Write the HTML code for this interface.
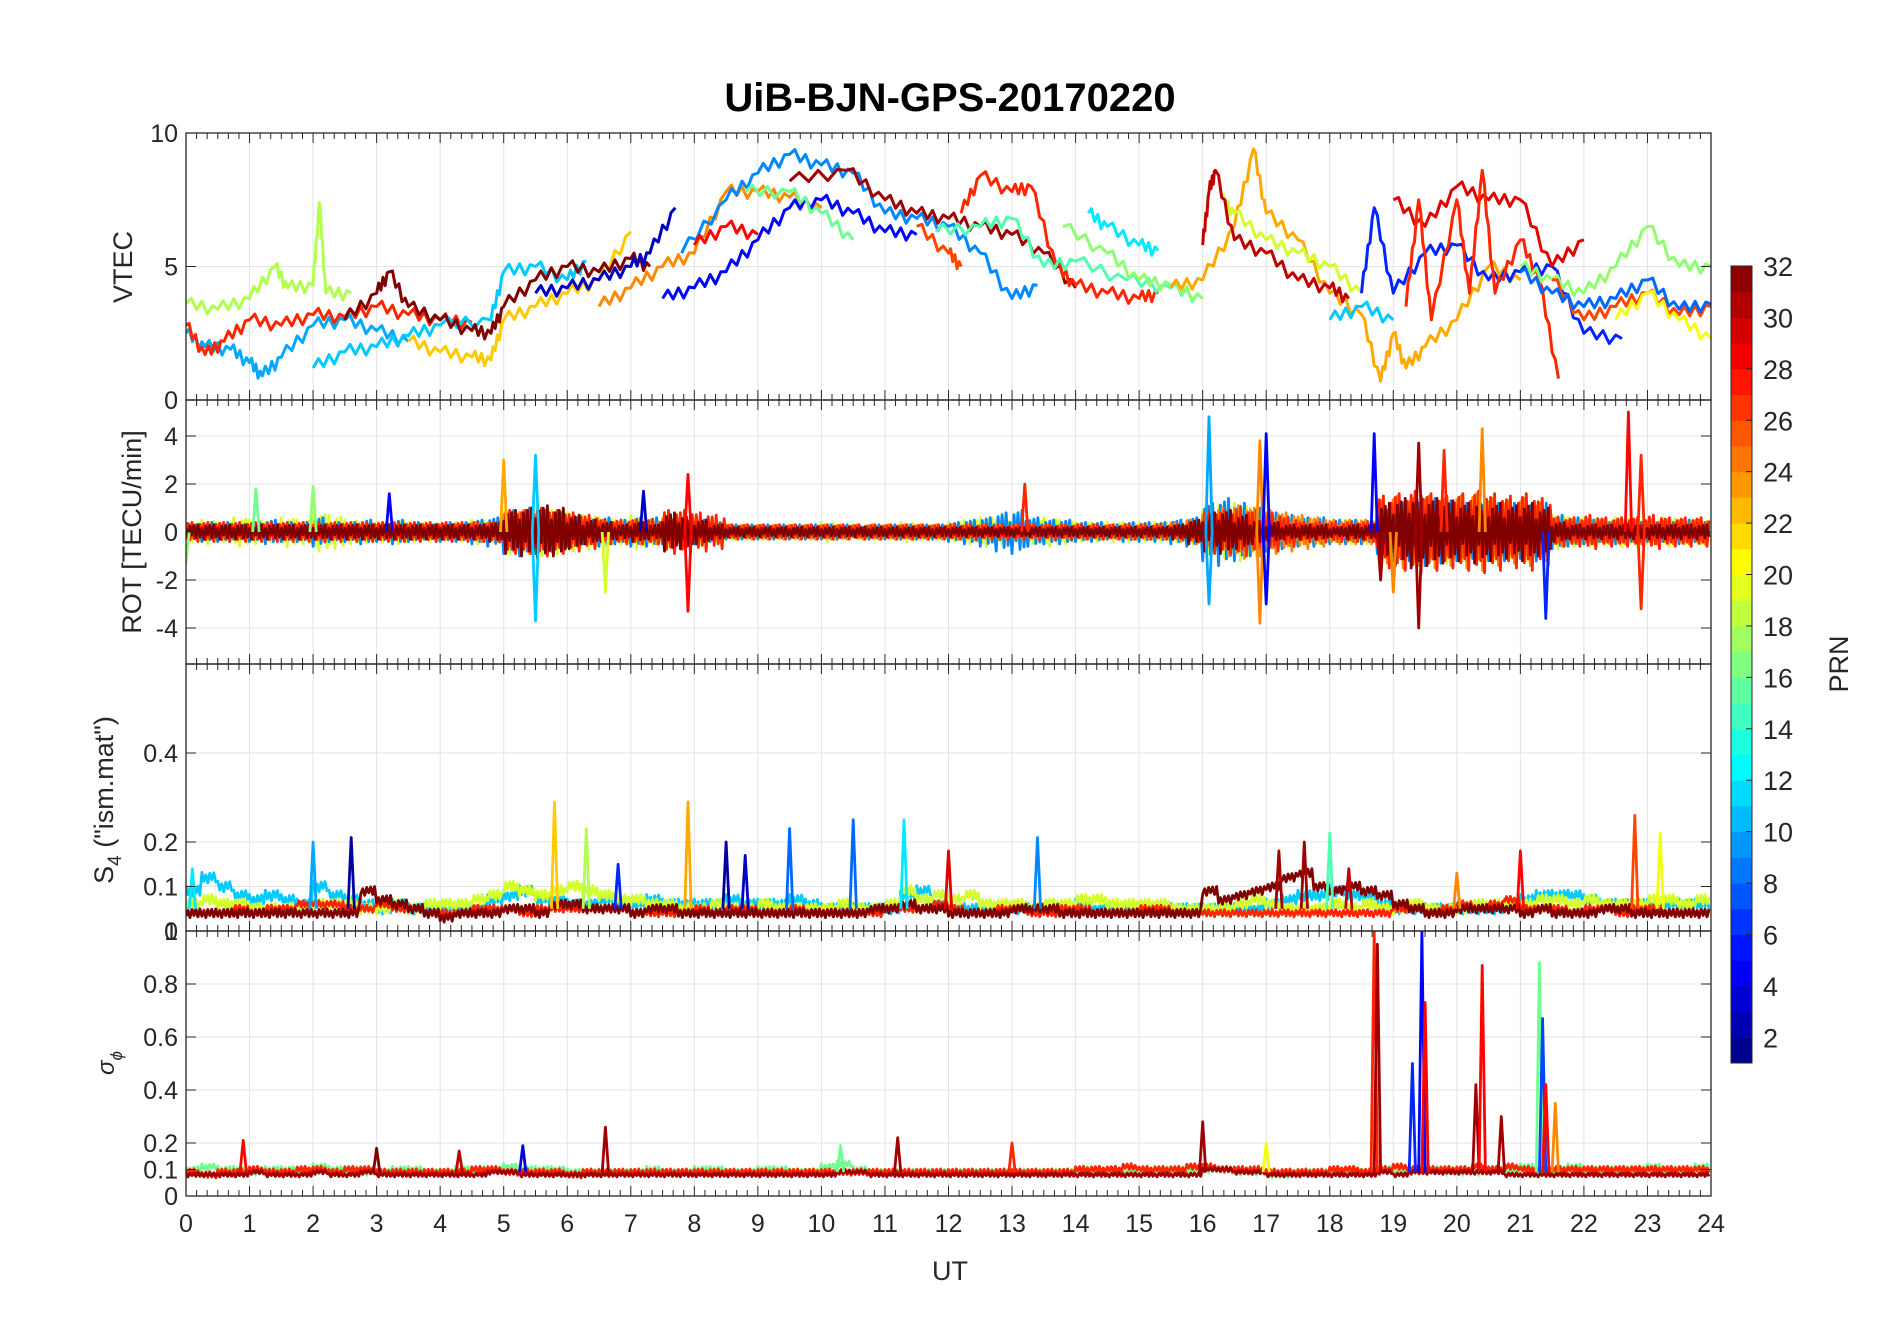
<!DOCTYPE html>
<html><head><meta charset="utf-8"><style>
body{margin:0;background:#fff;}
svg text{font-family:"Liberation Sans",sans-serif;fill:#262626;}
</style></head><body>
<svg id="c" width="1902" height="1330" viewBox="0 0 1902 1330" xmlns="http://www.w3.org/2000/svg">
<defs>
<clipPath id="cp1"><rect x="186" y="133" width="1525" height="267"/></clipPath>
<clipPath id="cp2"><rect x="186" y="400" width="1525" height="264"/></clipPath>
<clipPath id="cp3"><rect x="186" y="664" width="1525" height="267"/></clipPath>
<clipPath id="cp4"><rect x="186" y="931" width="1525" height="265"/></clipPath>
</defs>
<g id="grid"></g>
<g id="marks"></g>
<g id="axes"></g>
<text x="950" y="111" font-size="40" font-weight="bold" text-anchor="middle" style="fill:#000">UiB-BJN-GPS-20170220</text>
<text x="950" y="1280" font-size="27" text-anchor="middle">UT</text>
<text transform="translate(132,267) rotate(-90)" font-size="27" text-anchor="middle">VTEC</text>
<text transform="translate(141,532) rotate(-90)" font-size="27" text-anchor="middle">ROT [TECU/min]</text>
<text transform="translate(113,800) rotate(-90)" font-size="27" text-anchor="middle">S<tspan font-size="19" dy="8">4</tspan><tspan dy="-8"> ("ism.mat")</tspan></text>
<text transform="translate(114,1063) rotate(-90)" font-size="24" font-style="italic" text-anchor="middle">σ<tspan font-size="17" dy="8">ϕ</tspan></text>
<g id="cbar"></g>
<text transform="translate(1848,664) rotate(-90)" font-size="27" text-anchor="middle">PRN</text>
</svg>
<script>
// ---- data ----
const hoursTicks=[0,1,2,3,4,5,6,7,8,9,10,11,12,13,14,15,16,17,18,19,20,21,22,23,24];
const vtecTicks=[0,5,10];
const rotTicks=[-4,-2,0,2,4];
const s4Ticks=[0,0.1,0.2,0.4];
const sigTicks=[0,0.1,0.2,0.4,0.6,0.8,1];
const cbarTicks=[2,4,6,8,10,12,14,16,18,20,22,24,26,28,30,32];
// VTEC tracks: prn, [hour,value] pairs
const vtecTracks=[
[10,[[0,2.5],[0.3,2.0],[0.7,1.9],[1,1.4],[1.2,0.9],[1.5,1.6],[2,2.8],[2.5,3.0],[3,2.6],[3.5,2.2]]],
[18,[[0,3.6],[0.5,3.4],[1,3.8],[1.4,5.0],[1.6,4.2],[2,4.3],[2.1,7.4],[2.2,4.0],[2.6,4.0]]],
[27,[[0,2.8],[0.3,1.7],[0.6,2.2],[1,3.0],[1.5,2.8],[2,3.2],[2.5,3.1],[3,3.5],[3.5,3.2],[4,3.0],[4.5,2.9]]],
[11,[[2,1.2],[2.5,1.8],[3,2.0],[3.5,2.4],[4,2.8],[4.8,3.0],[5,4.8],[5.5,5.0],[6,4.5],[6.3,5.2]]],
[22,[[3.5,2.2],[4,1.8],[4.5,1.6],[4.8,1.5],[5,3.0],[5.5,3.5],[6,4.0],[6.5,4.5],[7,6.3]]],
[32,[[2.5,3.0],[3,4.0],[3.2,4.8],[3.5,3.5],[4,3.0],[4.5,2.6],[4.8,2.5],[5,3.5],[5.5,4.5],[6,5.0],[6.5,4.8],[7,5.3],[7.3,5.0]]],
[3,[[5.5,4.0],[6,4.2],[6.5,4.5],[7,5.0],[7.3,5.5],[7.7,7.2]]],
[24,[[6.5,3.5],[7,4.2],[7.5,5.0],[8,5.5],[8.5,7.8],[9,7.8],[9.5,7.6],[10,7.2]]],
[5,[[7.5,3.8],[8,4.2],[8.5,4.8],[9,6.0],[9.5,7.2],[10,7.5],[10.5,7.0],[11,6.3],[11.5,6.2]]],
[9,[[7.8,5.5],[8.5,7.5],[9,8.5],[9.5,9.2],[10,8.8],[10.5,8.5],[11,7.0],[11.5,6.8],[12,6.5],[12.5,5.5],[13,3.8],[13.4,4.3]]],
[16,[[8.8,7.8],[9.5,7.8],[10,7.0],[10.5,6.0]]],
[28,[[8,5.8],[8.5,6.5],[9,6.2]]],
[31,[[9.5,8.2],[10.4,8.6],[11,7.5],[11.5,7.0],[12,6.8],[12.5,6.5],[13,6.2],[13.5,5.5],[14,4.2]]],
[27,[[12.2,7.0],[12.5,8.4],[13,7.8],[13.3,8.0],[13.7,5.0],[14,4.3],[14.5,4.0],[15,3.8],[15.3,4.0]]],
[26,[[11.5,6.5],[12,5.5],[12.2,5.0]]],
[15,[[11.8,6.3],[12.5,6.5],[13,6.8],[13.5,5.0],[14,5.2],[14.8,4.5],[15.5,4.2],[16,3.8]]],
[12,[[14.2,7.0],[14.5,6.5],[15,5.8],[15.3,5.6]]],
[17,[[13.8,6.5],[14.5,5.5],[15,4.5],[15.5,4.3],[16,3.8]]],
[23,[[15.5,4.2],[16,4.5],[16.5,6.5],[16.8,9.4],[17,7.0],[17.5,6.0],[18,4.0],[18.5,3.2],[18.8,0.7],[19,2.5],[19.2,1.2],[19.5,2.0],[20,3.0],[20.5,5.0],[21,4.5]]],
[19,[[16.3,7.5],[16.5,7.0],[17,6.0],[17.5,5.5],[18,5.0],[18.5,4.0]]],
[11,[[18,3.0],[18.5,3.5],[19,3.0]]],
[30,[[16,5.8],[16.1,7.8],[16.2,8.6],[16.5,6.0],[17,5.5],[17.5,4.5],[18,4.2],[18.3,3.8]]],
[6,[[18.5,4.0],[18.7,7.2],[19,4.0],[19.5,5.5],[20,5.8],[20.5,4.5],[21,4.8],[21.5,5.0],[22,2.5],[22.6,2.3]]],
[29,[[19,7.5],[19.5,6.5],[20,8.0],[20.5,7.5],[21,7.5],[21.5,5.0],[22,6.0]]],
[27,[[19.2,3.5],[19.4,7.5],[19.6,3.0],[20,7.5],[20.2,4.0],[20.4,8.6],[20.6,4.0],[21,6.0],[21.3,4.5],[21.6,0.8]]],
[17,[[21,5.0],[21.5,4.5],[22,4.0],[22.5,5.0],[23,6.5],[23.5,5.0],[24,5.0]]],
[26,[[21.5,4.5],[22,3.0],[22.5,3.5],[23,4.0],[23.5,3.2],[24,3.5]]],
[20,[[22.5,3.0],[23,4.0],[23.5,3.0],[24,2.3]]],
[8,[[21,4.8],[21.5,4.0],[22,3.5],[22.5,3.8],[23,4.5],[23.5,3.4],[24,3.6]]]
];
// ROT amplitude per 0.25 h (97 values) per series
const rotAmpYellow=[0.4,0.5,0.4,0.6,0.5,0.4,0.6,0.5,0.8,0.7,0.5,0.4,0.4,0.5,0.4,0.4,0.3,0.4,0.5,0.4,0.9,0.8,1.0,0.9,0.8,0.7,0.6,0.5,0.7,0.5,0.6,0.5,0.5,0.4,0.3,0.3,0.3,0.3,0.3,0.3,0.4,0.3,0.3,0.3,0.3,0.4,0.3,0.3,0.4,0.5,0.6,0.5,0.4,0.5,0.6,0.5,0.4,0.4,0.4,0.4,0.4,0.4,0.4,0.5,0.9,1.1,1.2,1.0,0.7,0.6,0.5,0.5,0.4,0.5,0.5,0.7,1.0,1.2,1.2,1.3,1.2,1.1,1.2,1.1,1.2,0.9,0.7,0.6,0.6,0.5,0.6,0.6,0.5,0.6,0.5,0.5,0.5];
const rotAmpBlue=[0.3,0.4,0.4,0.3,0.4,0.5,0.4,0.4,0.6,0.4,0.4,0.5,0.4,0.5,0.4,0.3,0.4,0.4,0.5,0.6,0.9,1.0,0.9,0.8,0.6,0.5,0.6,0.5,0.6,0.6,0.5,0.4,0.5,0.4,0.3,0.3,0.3,0.3,0.3,0.3,0.3,0.3,0.2,0.3,0.3,0.3,0.3,0.3,0.4,0.5,0.6,0.8,0.9,0.6,0.5,0.5,0.4,0.4,0.3,0.4,0.4,0.4,0.5,0.6,1.2,1.4,1.2,1.0,0.8,0.7,0.6,0.6,0.5,0.5,0.5,0.9,1.2,1.2,1.4,1.3,1.2,1.1,1.2,1.2,1.1,1.2,0.7,0.6,0.5,0.4,0.5,0.4,0.4,0.4,0.5,0.4,0.4];
const rotAmpOrange=[0.3,0.3,0.3,0.3,0.3,0.3,0.3,0.3,0.3,0.3,0.3,0.3,0.3,0.3,0.3,0.3,0.3,0.3,0.4,0.4,0.8,0.9,0.8,0.7,0.6,0.5,0.5,0.4,0.5,0.5,0.6,0.5,0.4,0.3,0.3,0.3,0.3,0.3,0.3,0.3,0.3,0.3,0.3,0.3,0.3,0.3,0.3,0.3,0.3,0.3,0.3,0.3,0.3,0.3,0.3,0.3,0.3,0.3,0.3,0.3,0.3,0.3,0.4,0.5,0.8,1.0,1.1,1.0,0.9,0.8,0.7,0.6,0.5,0.5,0.5,1.3,1.5,1.4,1.5,1.4,1.5,1.6,1.4,1.3,1.4,1.2,0.6,0.5,0.5,0.5,0.5,0.5,0.5,0.5,0.5,0.5,0.5];
const rotAmpRed=[0.4,0.4,0.4,0.4,0.4,0.4,0.4,0.4,0.4,0.4,0.4,0.4,0.4,0.4,0.4,0.4,0.4,0.4,0.4,0.4,0.9,0.9,1.0,0.9,0.8,0.7,0.5,0.5,0.5,0.5,0.9,0.9,0.8,0.7,0.3,0.3,0.3,0.3,0.3,0.3,0.3,0.3,0.3,0.3,0.3,0.3,0.3,0.3,0.3,0.3,0.3,0.3,0.3,0.3,0.3,0.3,0.3,0.3,0.3,0.3,0.3,0.3,0.3,0.4,0.9,0.9,1.0,0.9,0.8,0.6,0.4,0.4,0.4,0.4,0.4,1.5,1.6,1.7,1.6,1.5,1.6,1.7,1.6,1.5,1.6,1.4,0.6,0.6,0.7,0.6,0.6,0.6,0.7,0.6,0.6,0.6,0.6];
const rotAmpDarkRed=[0.3,0.3,0.3,0.3,0.3,0.3,0.3,0.3,0.3,0.3,0.3,0.3,0.3,0.3,0.3,0.3,0.3,0.3,0.3,0.4,0.9,1.0,1.1,1.0,0.7,0.5,0.4,0.3,0.4,0.3,0.8,0.7,0.5,0.3,0.2,0.2,0.2,0.2,0.2,0.2,0.2,0.2,0.2,0.2,0.2,0.2,0.2,0.2,0.2,0.2,0.2,0.2,0.2,0.2,0.2,0.2,0.2,0.2,0.2,0.2,0.2,0.2,0.3,0.5,0.8,0.9,0.7,0.5,0.4,0.3,0.3,0.3,0.2,0.3,0.3,1.2,1.4,1.5,1.4,1.3,1.2,1.3,1.2,1.1,1.2,1.0,0.4,0.3,0.3,0.3,0.3,0.3,0.3,0.3,0.3,0.3,0.3];
// ROT spikes: hour, value, prn
const rotSpikeHours=[5.0,5.5,5.5,6.6,7.9,7.9,13.2,16.1,16.1,16.9,16.9,17.0,17.0,18.7,18.8,19.0,19.4,19.4,19.8,20.4,21.4,22.7,22.9,22.9,0.0,1.1,2.0,3.2,7.2];
const rotSpikeValues=[3.0,-3.7,3.2,-2.5,-3.3,2.4,2.0,4.8,-3.0,3.8,-3.8,4.1,-3.0,4.1,-2.0,-2.5,-4.0,3.7,3.4,4.3,-3.6,5.0,3.2,-3.2,-1.3,1.8,1.9,1.6,1.7];
const rotSpikePrn=[23,11,11,19,28,28,27,10,10,24,24,5,5,5,31,24,31,31,27,24,6,28,27,27,17,16,17,5,3];
// S4 baselines per 0.25 h (97 values)
const s4Cyan=[0.09,0.12,0.10,0.08,0.07,0.08,0.07,0.06,0.10,0.08,0.07,0.06,0.05,0.06,0.05,0.05,0.05,0.05,0.05,0.07,0.08,0.09,0.07,0.07,0.06,0.06,0.07,0.06,0.06,0.07,0.06,0.06,0.06,0.06,0.07,0.06,0.06,0.06,0.07,0.06,0.05,0.05,0.05,0.05,0.05,0.08,0.09,0.06,0.05,0.05,0.05,0.05,0.05,0.05,0.05,0.05,0.06,0.05,0.05,0.05,0.05,0.05,0.05,0.05,0.05,0.05,0.05,0.05,0.06,0.07,0.08,0.08,0.09,0.08,0.08,0.06,0.05,0.05,0.05,0.05,0.05,0.05,0.05,0.06,0.07,0.08,0.08,0.08,0.07,0.06,0.06,0.06,0.06,0.06,0.06,0.06,0.06];
const s4Yellow=[0.06,0.07,0.06,0.06,0.05,0.05,0.05,0.05,0.06,0.06,0.06,0.05,0.05,0.06,0.05,0.06,0.06,0.06,0.07,0.08,0.10,0.09,0.08,0.09,0.10,0.09,0.08,0.07,0.07,0.06,0.06,0.05,0.05,0.06,0.05,0.05,0.06,0.05,0.05,0.05,0.05,0.06,0.05,0.05,0.06,0.09,0.07,0.08,0.07,0.08,0.06,0.06,0.06,0.05,0.06,0.06,0.07,0.07,0.06,0.06,0.06,0.06,0.05,0.05,0.05,0.05,0.06,0.07,0.06,0.05,0.05,0.05,0.06,0.05,0.06,0.05,0.05,0.06,0.05,0.05,0.05,0.06,0.06,0.06,0.06,0.07,0.07,0.06,0.07,0.06,0.06,0.06,0.07,0.07,0.06,0.07,0.06];
const s4Red=[0.04,0.04,0.04,0.05,0.04,0.05,0.05,0.06,0.06,0.06,0.05,0.05,0.06,0.05,0.05,0.04,0.04,0.04,0.05,0.05,0.05,0.04,0.05,0.05,0.05,0.05,0.05,0.05,0.04,0.04,0.04,0.04,0.05,0.04,0.05,0.05,0.04,0.04,0.05,0.04,0.04,0.04,0.04,0.04,0.05,0.05,0.05,0.06,0.05,0.04,0.04,0.05,0.05,0.04,0.04,0.05,0.05,0.04,0.04,0.04,0.05,0.05,0.04,0.04,0.04,0.04,0.04,0.04,0.04,0.04,0.04,0.04,0.04,0.04,0.04,0.04,0.05,0.05,0.04,0.05,0.06,0.05,0.06,0.07,0.05,0.05,0.05,0.04,0.05,0.05,0.04,0.05,0.05,0.04,0.04,0.04,0.04];
const s4DarkRed=[0.04,0.04,0.04,0.04,0.04,0.04,0.04,0.04,0.04,0.04,0.04,0.09,0.07,0.06,0.05,0.04,0.03,0.04,0.04,0.04,0.05,0.05,0.04,0.06,0.06,0.05,0.05,0.05,0.04,0.05,0.05,0.04,0.04,0.04,0.04,0.04,0.04,0.04,0.04,0.04,0.04,0.04,0.04,0.05,0.05,0.06,0.05,0.05,0.04,0.04,0.04,0.04,0.05,0.05,0.05,0.04,0.04,0.04,0.04,0.04,0.04,0.04,0.04,0.04,0.09,0.07,0.08,0.09,0.10,0.12,0.13,0.10,0.09,0.10,0.09,0.08,0.06,0.05,0.04,0.04,0.05,0.05,0.05,0.05,0.04,0.05,0.04,0.04,0.04,0.05,0.05,0.04,0.04,0.04,0.04,0.04,0.04];
const s4SpikeHours=[0.1,2.0,2.6,5.8,6.3,6.8,7.9,8.5,8.8,9.5,10.5,11.3,12.0,13.4,17.6,18.0,20.0,21.0,22.8,23.2,17.2,18.3];
const s4SpikeValues=[0.14,0.20,0.21,0.29,0.23,0.15,0.29,0.20,0.17,0.23,0.25,0.25,0.18,0.21,0.20,0.22,0.13,0.18,0.26,0.22,0.18,0.14];
const s4SpikePrn=[12,10,2,22,18,6,23,2,3,8,8,12,29,9,31,15,24,28,26,20,31,30];
// sigma-phi baselines per 0.25 h
const sigGreen=[0.10,0.11,0.10,0.10,0.09,0.10,0.10,0.09,0.11,0.10,0.10,0.09,0.09,0.10,0.10,0.09,0.09,0.10,0.10,0.10,0.11,0.10,0.10,0.10,0.09,0.09,0.09,0.09,0.09,0.10,0.09,0.09,0.10,0.10,0.09,0.09,0.10,0.10,0.09,0.09,0.11,0.12,0.10,0.09,0.09,0.09,0.09,0.09,0.09,0.09,0.09,0.09,0.09,0.09,0.09,0.09,0.10,0.09,0.09,0.09,0.09,0.10,0.10,0.10,0.10,0.10,0.09,0.09,0.08,0.08,0.09,0.09,0.09,0.09,0.09,0.10,0.09,0.10,0.10,0.09,0.09,0.09,0.10,0.10,0.11,0.10,0.10,0.11,0.10,0.10,0.10,0.10,0.11,0.10,0.10,0.11,0.11];
const sigRed=[0.09,0.08,0.09,0.09,0.10,0.09,0.09,0.10,0.10,0.09,0.10,0.10,0.09,0.09,0.09,0.09,0.09,0.09,0.10,0.10,0.09,0.09,0.09,0.09,0.08,0.09,0.09,0.09,0.09,0.09,0.09,0.09,0.09,0.09,0.09,0.09,0.09,0.09,0.09,0.09,0.09,0.09,0.09,0.09,0.09,0.09,0.09,0.09,0.09,0.09,0.09,0.09,0.09,0.09,0.09,0.09,0.10,0.10,0.10,0.11,0.10,0.10,0.10,0.11,0.11,0.10,0.10,0.10,0.09,0.09,0.09,0.09,0.10,0.10,0.09,0.10,0.11,0.10,0.10,0.10,0.10,0.11,0.10,0.11,0.10,0.10,0.10,0.10,0.10,0.10,0.10,0.10,0.10,0.10,0.10,0.10,0.10];
const sigDarkRed=[0.08,0.08,0.08,0.08,0.09,0.08,0.08,0.08,0.09,0.08,0.08,0.09,0.08,0.08,0.08,0.08,0.08,0.08,0.08,0.09,0.09,0.08,0.08,0.08,0.08,0.08,0.08,0.08,0.08,0.08,0.08,0.08,0.08,0.08,0.08,0.08,0.08,0.08,0.08,0.08,0.08,0.09,0.09,0.08,0.08,0.08,0.08,0.08,0.08,0.08,0.08,0.08,0.08,0.08,0.08,0.08,0.08,0.08,0.08,0.08,0.08,0.08,0.08,0.08,0.10,0.10,0.09,0.09,0.08,0.08,0.08,0.08,0.08,0.08,0.08,0.09,0.08,0.09,0.09,0.09,0.09,0.09,0.09,0.08,0.08,0.08,0.08,0.08,0.08,0.08,0.08,0.08,0.08,0.08,0.08,0.08,0.08];
const sigSpikeHours=[0.9,3.0,5.3,6.6,10.3,11.2,13.0,16.0,17.0,18.7,18.75,19.3,19.45,19.5,20.3,20.4,20.7,21.3,21.35,21.4,21.55,4.3];
const sigSpikeValues=[0.21,0.18,0.19,0.26,0.19,0.22,0.20,0.28,0.20,1.0,0.95,0.50,1.0,0.73,0.42,0.87,0.30,0.88,0.67,0.42,0.35,0.17];
const sigSpikePrn=[28,32,4,31,16,31,27,31,20,27,31,6,5,28,31,28,31,16,7,28,24,30];

// ---- helpers ----
const NS='http://www.w3.org/2000/svg';
const X0=186,X1=1711;
const xs=h=>X0+h*(X1-X0)/24;
const ys=[v=>400-v/10*267, v=>532-v*24, v=>931-v*445, v=>1196-v*265];
function jet(p){const t=(p-1)/31;const c=x=>Math.max(0,Math.min(1,x));
 const r=c(1.5-Math.abs(4*t-3)),g=c(1.5-Math.abs(4*t-2)),b=c(1.5-Math.abs(4*t-1));
 return `rgb(${Math.round(r*255)},${Math.round(g*255)},${Math.round(b*255)})`;}
function mk(tag,attrs,parent){const e=document.createElementNS(NS,tag);for(const k in attrs)e.setAttribute(k,attrs[k]);parent.appendChild(e);return e;}
const grid=document.getElementById('grid'),marks=document.getElementById('marks'),axes=document.getElementById('axes');
const panels=[{t:133,b:400,ticks:vtecTicks,lab:v=>v},{t:400,b:664,ticks:rotTicks,lab:v=>v},{t:664,b:931,ticks:s4Ticks,lab:v=>v},{t:931,b:1196,ticks:sigTicks,lab:v=>v}];
panels.forEach((p,i)=>{
 hoursTicks.forEach(h=>{const l=mk('line',{x1:xs(h),x2:xs(h),y1:p.t,y2:p.b,stroke:'#e3e3e3','stroke-width':1},grid);
  
  });
 p.ticks.forEach(v=>{const y=ys[i](v);const l=mk('line',{x1:X0,x2:X1,y1:y,y2:y,stroke:'#e3e3e3','stroke-width':1},grid);
  
  
  mk('line',{x1:X0,x2:X0+10,y1:y,y2:y,stroke:'#262626'},axes);
  mk('line',{x1:X1,x2:X1-10,y1:y,y2:y,stroke:'#262626'},axes);
  const t=mk('text',{x:X0-8,y:y+9,'font-size':25,'text-anchor':'end'},axes);t.textContent=p.lab(v);
  
  });
 const r=mk('rect',{x:X0,y:p.t,width:X1-X0,height:p.b-p.t,fill:'none',stroke:'#262626','stroke-width':1.3},axes);
 
 
 for(let m=0;m<=24*6;m++){const x=xs(m/6);const L=m%6==0?10:6;
  mk('line',{x1:x,x2:x,y1:p.t,y2:p.t+L,stroke:'#262626'},axes);
  mk('line',{x1:x,x2:x,y1:p.b,y2:p.b-L,stroke:'#262626'},axes);}
});
hoursTicks.forEach(h=>{const t=mk('text',{x:xs(h),y:1232,'font-size':25,'text-anchor':'middle'},axes);t.textContent=h;
 
 });
function poly(pts,col,clip,w,name){const pl=mk('polyline',{points:pts.map(p=>p[0].toFixed(1)+','+p[1].toFixed(1)).join(' '),fill:'none',stroke:col,'stroke-width':w||3,'stroke-linejoin':'round','clip-path':'url(#'+clip+')'},marks);
 
 return pl;}
const WIG=[0,0.25,-0.15,0.2,-0.25,0.1];
vtecTracks.forEach(([prn,pts])=>{const out=[];
 for(let k=0;k<pts.length-1;k++){const [h0,v0]=pts[k],[h1,v1]=pts[k+1];
  for(let j=0;j<6;j++){const f=j/6;out.push([xs(h0+(h1-h0)*f),ys[0](v0+(v1-v0)*f+WIG[j]*(j?1:0))]);}}
 const l=pts[pts.length-1];out.push([xs(l[0]),ys[0](l[1])]);
 poly(out,jet(prn),'cp1',3,'vtec-track-prn'+prn);});
const PAT=[1,-0.7,0.5,-1,0.8,-0.4,0.9,-0.8];
function band(arr,pi,col,clip,center,scale,name,phase){const out=[];
 arr.forEach((a,k)=>{if(k==arr.length-1)return;for(let j=0;j<8;j++){const h=k*0.25+j*0.25/8;const pv=PAT[(j+phase)%8];
  const v=center===null? a+pv*scale : center+pv*a;out.push([xs(h),ys[pi](v)]);}});
 poly(out,col,clip,2.8,name);}
band(rotAmpYellow,1,jet(19),'cp2',0,0,'rot-series-prn19',0);
band(rotAmpBlue,1,jet(9),'cp2',0,0,'rot-series-prn9',3);
band(rotAmpOrange,1,jet(24),'cp2',0,0,'rot-series-prn24',6);
band(rotAmpRed,1,jet(27),'cp2',0,0,'rot-series-prn27',5);
band(rotAmpDarkRed,1,jet(32),'cp2',0,0,'rot-series-prn32',2);
function spikes(hs,vs,ps,pi,base,clip,name){hs.forEach((h,i)=>{poly([[xs(h-0.05),ys[pi](base)],[xs(h),ys[pi](vs[i])],[xs(h+0.05),ys[pi](base)]],jet(ps[i]),clip,2.8,name);});}
spikes(rotSpikeHours,rotSpikeValues,rotSpikePrn,1,0,'cp2','rot-spike');
band(s4Cyan,2,jet(11),'cp3',null,0.012,'s4-series-prn11',0);
band(s4Yellow,2,jet(19),'cp3',null,0.012,'s4-series-prn19',3);
band(s4Red,2,jet(27),'cp3',null,0.008,'s4-series-prn27',5);
band(s4DarkRed,2,jet(32),'cp3',null,0.01,'s4-series-prn32',1);
spikes(s4SpikeHours,s4SpikeValues,s4SpikePrn,2,0.05,'cp3','s4-spike');
band(sigGreen,3,jet(16),'cp4',null,0.012,'sigma-series-prn16',0);
band(sigRed,3,jet(27),'cp4',null,0.012,'sigma-series-prn27',4);
band(sigDarkRed,3,jet(31),'cp4',null,0.008,'sigma-series-prn31',2);
spikes(sigSpikeHours,sigSpikeValues,sigSpikePrn,3,0.09,'cp4','sigma-spike');
const cb=document.getElementById('cbar');const CT=266,CB=1063;const cy=v=>CT+(32-v)*(CB-CT)/31;
for(let k=1;k<=31;k++){mk('rect',{x:1731,y:cy(k+1),width:21,height:(CB-CT)/31+0.5,fill:jet(k+0.5)},cb);}
mk('rect',{x:1731,y:CT,width:21,height:CB-CT,fill:'none',stroke:'#262626','stroke-width':1},cb);
cbarTicks.forEach(v=>{mk('line',{x1:1746,x2:1752,y1:cy(v),y2:cy(v),stroke:'#262626'},cb);
 const t=mk('text',{x:1763,y:cy(v)+10,'font-size':27},cb);t.textContent=v;
 
 });
</script>
</body></html>
